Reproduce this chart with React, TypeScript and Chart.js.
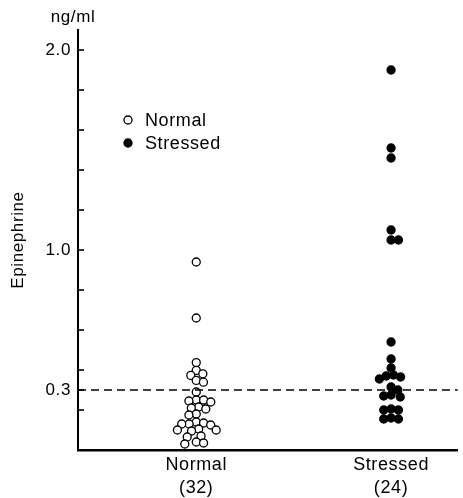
import React, { useEffect, useRef } from "react";
import { Chart, registerables } from "chart.js";
Chart.register(...registerables);

const categories = ["Normal", "Stressed"];
const groupCounts = ["(32)", "(24)"];
const normalValues = [
  0.94, 0.66, 0.437, 0.398, 0.381, 0.373, 0.348, 0.339, 0.29, 0.25, 0.25, 0.245,
  0.24, 0.215, 0.21, 0.205, 0.18, 0.175, 0.14, 0.135, 0.13, 0.13, 0.125, 0.105,
  0.1, 0.1, 0.095, 0.07, 0.065, 0.04, 0.035, 0.03,
];
const stressedValues = [
  1.9, 1.51, 1.46, 1.1, 1.05, 1.05, 0.54, 0.455, 0.41, 0.375, 0.37, 0.365, 0.355,
  0.315, 0.3, 0.275, 0.27, 0.265, 0.205, 0.2, 0.2, 0.16, 0.155, 0.155,
];
const yTickValues = [0.2, 0.3, 0.4, 0.6, 0.8, 1.0, 1.2, 1.4, 1.6, 1.8, 2.0];
const yTickLabels: Record<string, string> = { "0.3": "0.3", "1": "1.0", "2": "2.0" };
const thresholdValue = 0.3;
const yUnit = "ng/ml";
const yTitle = "Epinephrine";

const FONT = "'Liberation Sans', Arial, sans-serif";

function swarm(pys: number[], d: number): number[] {
  const order = pys.map((_, i) => i).sort((a, b) => pys[a] - pys[b]);
  const placed: { x: number; y: number }[] = [];
  const xs = new Array(pys.length).fill(0);
  for (const i of order) {
    const y = pys[i];
    const intervals: [number, number][] = [];
    for (const p of placed) {
      const dy = Math.abs(p.y - y);
      if (dy < d) {
        const w = Math.sqrt(d * d - dy * dy);
        intervals.push([p.x - w, p.x + w]);
      }
    }
    const cands = [0];
    intervals.forEach(([a, b]) => cands.push(a, b));
    cands.sort((a, b) => Math.abs(a) - Math.abs(b) || b - a);
    let x = 0;
    for (const c of cands) {
      if (!intervals.some(([a, b]) => c > a + 1e-6 && c < b - 1e-6)) {
        x = c;
        break;
      }
    }
    xs[i] = x;
    placed.push({ x, y });
  }
  return xs;
}

const extrasPlugin = {
  id: "extras",
  beforeDraw(chart: any) {
    (chart.ctx as any).letterSpacing = "0.6px";
  },
  afterDraw(chart: any) {
    const { ctx, scales } = chart;
    const ys = scales.y;
    const area = chart.chartArea;
    ctx.save();
    ctx.strokeStyle = "#000";
    ctx.lineWidth = 1.6;
    yTickValues.forEach((v) => {
      const py = ys.getPixelForValue(v);
      ctx.beginPath();
      ctx.moveTo(area.left, py);
      ctx.lineTo(area.left + 6, py);
      ctx.stroke();
    });
    const ty = ys.getPixelForValue(thresholdValue);
    ctx.setLineDash([8, 5]);
    ctx.lineWidth = 1.6;
    ctx.beginPath();
    ctx.moveTo(area.left, ty);
    ctx.lineTo(area.right, ty);
    ctx.stroke();
    ctx.setLineDash([]);
    ctx.fillStyle = "#000";
    ctx.font = `17px ${FONT}`;
    ctx.textAlign = "center";
    ctx.textBaseline = "middle";
    ctx.fillText(yUnit, 73, 17);
    ctx.font = `18px ${FONT}`;
    ctx.textAlign = "left";
    const items = [
      { label: categories[0], y: 120, fill: "#fff" },
      { label: categories[1], y: 143, fill: "#000" },
    ];
    items.forEach((it) => {
      ctx.beginPath();
      ctx.arc(128, it.y, 4, 0, Math.PI * 2);
      ctx.fillStyle = it.fill;
      ctx.fill();
      ctx.lineWidth = 1.3;
      ctx.strokeStyle = "#000";
      ctx.stroke();
      ctx.fillStyle = "#000";
      ctx.fillText(it.label, 145, it.y + 1);
    });
    ctx.restore();
    (ctx as any).letterSpacing = "0px";
  },
};

export default function App() {
  const ref = useRef<HTMLCanvasElement>(null);
  useEffect(() => {
    document.body.style.margin = "0";
    const canvas = ref.current!;
    const groups = [normalValues, stressedValues];
    const chart = new Chart(canvas, {
      type: "scatter",
      data: {
        datasets: groups.map((vals, k) => ({
          label: categories[k],
          data: vals.map((v) => ({ x: k, y: v })),
          pointRadius: 4,
          pointHoverRadius: 4,
          pointBackgroundColor: k === 0 ? "#fff" : "#000",
          pointBorderColor: "#000",
          pointBorderWidth: 1.3,
        })),
      },
      options: {
        animation: false,
        responsive: false,
        events: [],
        layout: { padding: { top: 30, right: 3, left: 0, bottom: 0 } },
        plugins: { legend: { display: false }, tooltip: { enabled: false } },
        scales: {
          x: {
            type: "linear",
            min: -0.607,
            max: 1.342,
            afterBuildTicks: (s: any) => {
              s.ticks = categories.map((_, i) => ({ value: i }));
            },
            afterFit: (s: any) => {
              s.height = 48;
            },
            ticks: {
              callback: (v: any) => [categories[v], groupCounts[v]],
              font: { family: FONT, size: 18, lineHeight: 1.25 },
              color: "#000",
              padding: 4,
              maxRotation: 0,
              autoSkip: false,
            },
            grid: { display: false, drawTicks: false },
            border: { display: true, color: "#000", width: 2.5 },
          },
          y: {
            type: "linear",
            min: 0,
            max: 2.1,
            afterBuildTicks: (s: any) => {
              s.ticks = yTickValues.map((v) => ({ value: v }));
            },
            afterFit: (s: any) => {
              s.width = 78;
            },
            ticks: {
              callback: (v: any) => yTickLabels[String(v)] ?? "",
              font: { family: FONT, size: 17 },
              color: "#000",
              padding: 7,
              autoSkip: false,
            },
            grid: { display: false, drawTicks: false },
            border: { display: true, color: "#000", width: 2 },
            title: {
              display: true,
              text: yTitle,
              font: { family: FONT, size: 17 },
              color: "#000",
              padding: { top: 8, bottom: 0 },
            },
          },
        },
      },
      plugins: [extrasPlugin],
    } as any);

    const xs: any = chart.scales.x;
    const ys: any = chart.scales.y;
    groups.forEach((vals, k) => {
      const py = vals.map((v) => ys.getPixelForValue(v));
      const off = swarm(py, 7.4);
      const cx = xs.getPixelForValue(k);
      (chart.data.datasets[k] as any).data = vals.map((v, i) => ({
        x: xs.getValueForPixel(cx + off[i]),
        y: v,
      }));
    });
    chart.update();
    return () => chart.destroy();
  }, []);
  return (
    <div style={{ width: 463, height: 498 }}>
      <canvas ref={ref} width={463} height={498} style={{ display: "block" }} />
    </div>
  );
}
